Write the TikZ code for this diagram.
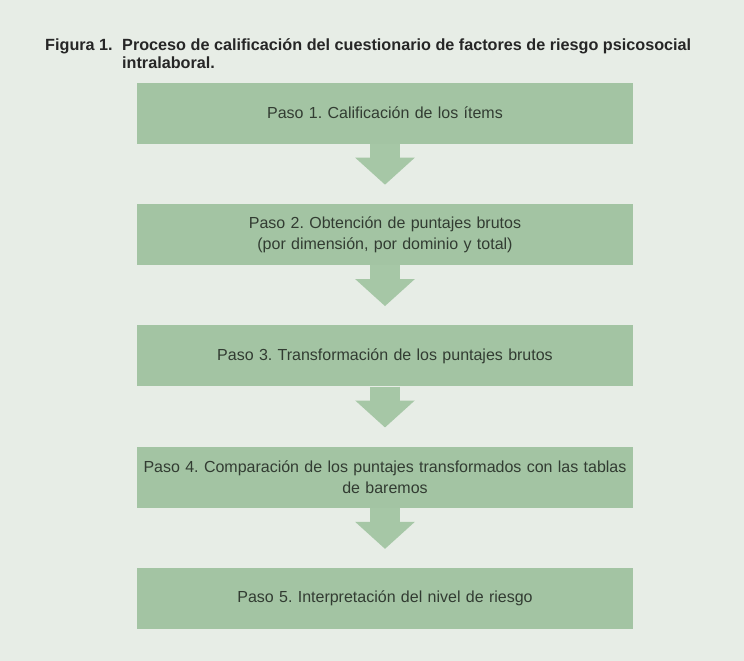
\documentclass[tikz,border=0pt]{standalone}
\usepackage{fontspec}
\setmainfont{Liberation Sans}
\usetikzlibrary{positioning,arrows.meta}
\definecolor{fondo}{RGB}{231,237,230}
\definecolor{verde}{RGB}{163,196,163}
\definecolor{verdeflecha}{RGB}{166,199,166}
\definecolor{texto}{RGB}{50,60,50}
\frenchspacing
\begin{document}
\begin{tikzpicture}
[x=1pt,y=1pt,
 paso/.style={fill=verde, minimum width=496pt, minimum height=61pt,
   text width=488pt, align=center, inner sep=4pt, text=texto,
   font=\fontsize{16}{21}\selectfont},
 flecha/.style={draw=verdeflecha, line width=30pt,
   -{Triangle[width=58pt,length=27pt]}, shorten >=19pt},
 titulo/.style={anchor=base west, inner sep=0pt, text=black!85,
   font=\bfseries\fontsize{16.2}{19}\selectfont}]
  \fill[fondo] (0,0) rectangle (744,-661);
  \useasboundingbox (0,0) rectangle (744,-661);

  % titulo
  \node (fig) [titulo] at (45,-51) {Figura 1.};
  \node (tit1) [titulo] at (122,-51) {Proceso de calificación del cuestionario de factores de riesgo psicosocial};
  \node (tit2) [titulo] at (122,-69) {intralaboral.};

  % pasos
  \node (paso1) [paso] at (385,-113) {Paso 1. Calificación de los ítems};
  \node (paso2) [paso, below=60pt of paso1] {Paso 2. Obtención de puntajes brutos\\(por dimensión, por dominio y total)};
  \node (paso3) [paso, below=60pt of paso2] {Paso 3. Transformación de los puntajes brutos};
  \node (paso4) [paso, below=60pt of paso3] {Paso 4. Comparación de los puntajes transformados con las tablas\\de baremos};
  \node (paso5) [paso, below=60pt of paso4] {Paso 5. Interpretación del nivel de riesgo};

  \foreach \a/\b in {paso1/paso2,paso2/paso3,paso3/paso4,paso4/paso5}
    \draw[flecha] (\a) -- (\b);
\end{tikzpicture}
\end{document}
